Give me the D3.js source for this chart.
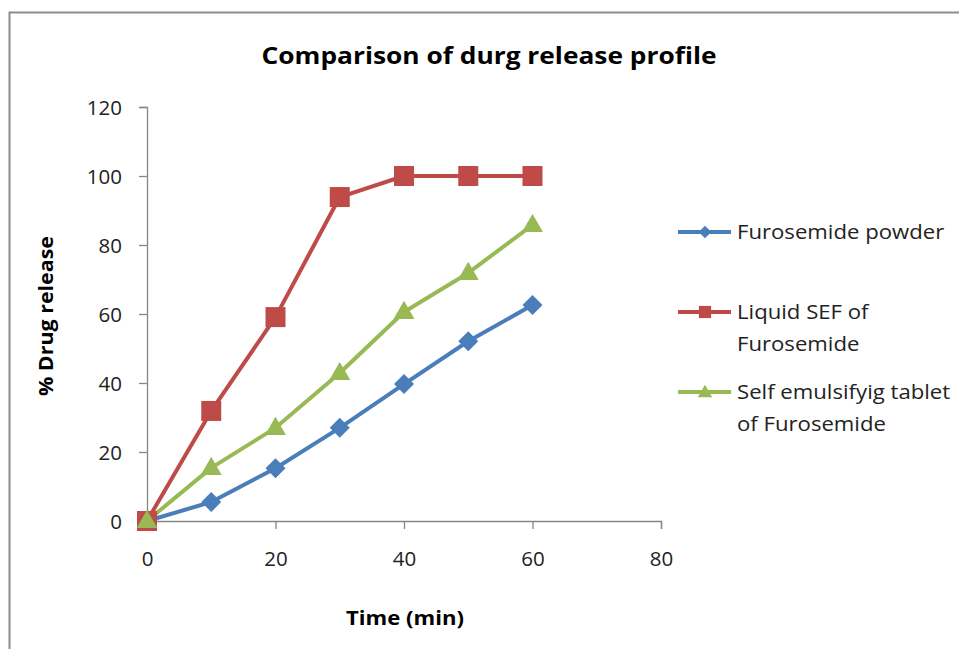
<!DOCTYPE html>
<html>
<head>
<meta charset="utf-8">
<script src="https://cdn.jsdelivr.net/npm/d3@7"></script>
<style>
  html, body { margin: 0; padding: 0; background: #fff; }
  svg { display: block; font-family: "Open Sans", "Noto Sans", sans-serif; }
</style>
</head>
<body>
<svg id="chart" width="959" height="649"></svg>
<script>
// Sampling times (min) and cumulative % drug release for each formulation
const times = [0, 10, 20, 30, 40, 50, 60];
const powderRelease = [0, 5.5, 15.3, 27, 39.7, 52.1, 62.6];
const liquidSefRelease = [0, 31.9, 59.1, 93.9, 100, 100, 100];
const tabletRelease = [0, 15.4, 27, 42.9, 60.6, 71.9, 85.8];

const seriesNames = [
  ["Furosemide powder"],
  ["Liquid SEF of", "Furosemide"],
  ["Self emulsifyig tablet", "of Furosemide"]
];
const seriesColors = ["#4A7EBB", "#BE4B48", "#98B954"];

const xTicks = [0, 20, 40, 60, 80];
const yTicks = [0, 20, 40, 60, 80, 100, 120];

// marker shapes: diamond is a square turned 45 degrees
const markerDefs = [
  { type: d3.symbolSquare, size: 200, rotate: 45, legendSize: 80 },
  { type: d3.symbolSquare, size: 400, rotate: 0, legendSize: 150 },
  { type: d3.symbolTriangle, size: 190, rotate: 0, legendSize: 90 }
];

const series = [powderRelease, liquidSefRelease, tabletRelease].map((vals, i) => ({
  name: seriesNames[i],
  color: seriesColors[i],
  marker: markerDefs[i],
  points: times.map((t, j) => ({ t, v: vals[j] }))
}));

const svg = d3.select("#chart");

// Outer frame of the chart area
svg.append("rect")
  .attr("x", 9.5).attr("y", 12.5)
  .attr("width", 980).attr("height", 660)
  .attr("fill", "none").attr("stroke", "#8c8c8c").attr("stroke-width", 2);

const x = d3.scaleLinear().domain([0, 80]).range([147, 661]);
const y = d3.scaleLinear().domain([0, 120]).range([521, 107]);

const axisColor = "#868686";

// Y axis
const yAxis = svg.append("g")
  .attr("transform", `translate(${x(0)},0)`)
  .call(d3.axisLeft(y).tickValues(yTicks).tickSize(8).tickPadding(17).tickFormat(d3.format("d")));
// X axis
const xAxis = svg.append("g")
  .attr("transform", `translate(0,${y(0)})`)
  .call(d3.axisBottom(x).tickValues(xTicks).tickSize(8).tickPadding(22).tickFormat(d3.format("d")));

[yAxis, xAxis].forEach(g => {
  g.select(".domain").attr("stroke", axisColor).attr("stroke-width", 1.3);
  g.selectAll(".tick line").attr("stroke", axisColor).attr("stroke-width", 1.3);
  g.selectAll(".tick text").attr("fill", "#222").attr("font-size", 20.5)
    .attr("font-family", "'Open Sans', sans-serif");
});
yAxis.selectAll(".tick text").attr("dy", "0.36em");
xAxis.selectAll(".tick text").attr("dy", "0.72em");

// Title and axis titles
svg.append("text")
  .attr("x", 489).attr("y", 64)
  .attr("text-anchor", "middle")
  .attr("font-size", 23).attr("font-weight", "bold")
  .attr("textLength", 455).attr("lengthAdjust", "spacingAndGlyphs")
  .attr("fill", "#000")
  .text("Comparison of durg release profile");

svg.append("text")
  .attr("transform", "translate(53,316) rotate(-90)")
  .attr("text-anchor", "middle")
  .attr("font-size", 19).attr("font-weight", "bold")
  .attr("textLength", 160).attr("lengthAdjust", "spacingAndGlyphs")
  .attr("fill", "#000")
  .text("% Drug release");

svg.append("text")
  .attr("x", 405).attr("y", 625)
  .attr("text-anchor", "middle")
  .attr("font-size", 19).attr("font-weight", "bold")
  .attr("textLength", 118).attr("lengthAdjust", "spacingAndGlyphs")
  .attr("fill", "#000")
  .text("Time (min)");

// Lines and markers
const line = d3.line().x(d => x(d.t)).y(d => y(d.v));

series.forEach(s => {
  svg.append("path")
    .datum(s.points)
    .attr("d", line)
    .attr("fill", "none")
    .attr("stroke", s.color)
    .attr("stroke-width", 4)
    .attr("stroke-linejoin", "round");
});
series.forEach(s => {
  const m = s.marker;
  svg.append("g").selectAll("path")
    .data(s.points)
    .join("path")
    .attr("transform", d => `translate(${x(d.t)},${y(d.v) + (m.type === d3.symbolTriangle ? 1 : 0)}) rotate(${m.rotate})`)
    .attr("d", d3.symbol().type(m.type).size(m.size))
    .attr("fill", s.color);
});

// Legend
const legendRows = [232, 312, 392];
const lineHeight = 32;
series.forEach((s, i) => {
  const m = s.marker;
  const g = svg.append("g").attr("transform", `translate(0,${legendRows[i]})`);
  g.append("line")
    .attr("x1", 678).attr("x2", 731).attr("y1", 0).attr("y2", 0)
    .attr("stroke", s.color).attr("stroke-width", 4);
  g.append("path")
    .attr("transform", `translate(705,${m.type === d3.symbolTriangle ? 1 : 0}) rotate(${m.rotate})`)
    .attr("d", d3.symbol().type(m.type).size(m.legendSize))
    .attr("fill", s.color);
  s.name.forEach((txt, k) => {
    const t = g.append("text")
      .attr("x", 737).attr("y", k * lineHeight)
      .attr("dy", "0.36em")
      .attr("font-size", 20.5)
      .attr("fill", "#222")
      .text(txt);
    // widen slightly to the legend's natural column width
    const w = t.node().getComputedTextLength();
    t.attr("textLength", w * 1.08).attr("lengthAdjust", "spacingAndGlyphs");
  });
});
</script>
</body>
</html>
